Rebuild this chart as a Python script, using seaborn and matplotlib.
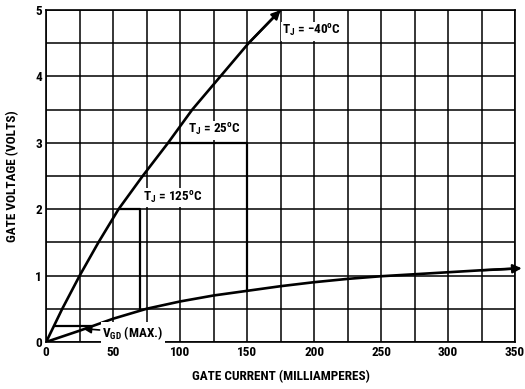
import numpy as np
import pandas as pd
import matplotlib
matplotlib.use("Agg")
import matplotlib.pyplot as plt
from matplotlib import font_manager
import seaborn as sns

# gate characteristics (mA, volts)
upper_ma = [0, 6, 12, 25, 39, 54, 72, 91, 109, 130, 151, 175]
upper_v = [0, 0.25, 0.5, 1.0, 1.5, 2.0, 2.5, 3.0, 3.5, 4.0, 4.5, 5.0]

lower_ma = [0, 25, 50, 75, 100, 125, 150, 175, 200, 225, 250, 275, 300, 325, 355]
lower_v = [0, 0.17, 0.35, 0.50, 0.61, 0.70, 0.77, 0.84, 0.90, 0.95, 0.99, 1.02, 1.05, 1.08, 1.11]

# rectangular limits for the two junction temperatures
box25_ma = [91, 150, 150]
box25_v = [3.0, 3.0, 0.77]
box125_ma = [54, 70, 70]
box125_v = [2.0, 2.0, 0.48]

# V_GD (max) line
vgd_ma = [6, 34]
vgd_v = [0.24, 0.24]

x_ticks = [0, 50, 100, 150, 200, 250, 300, 350]
y_ticks = [0, 1, 2, 3, 4, 5]

sns.set_style("white")

# pick a narrow face if one is installed
installed = {f.name for f in font_manager.fontManager.ttflist}
family = "DejaVu Sans"
for name in ["Liberation Sans Narrow", "DejaVu Sans Condensed", "Roboto Condensed",
             "Open Sans Condensed", "Liberation Sans"]:
    if name in installed:
        family = name
        break
plt.rcParams["font.family"] = [family, "DejaVu Sans"]
plt.rcParams["font.weight"] = "bold"
plt.rcParams["mathtext.default"] = "regular"
for key in ["text.color", "axes.labelcolor", "xtick.color", "ytick.color"]:
    plt.rcParams[key] = "black"

fig = plt.figure(figsize=(5.25, 3.89), dpi=100)
ax = fig.add_axes([0.088, 0.121, 0.893, 0.853])

upper = pd.DataFrame({"ma": upper_ma, "v": upper_v})
lower = pd.DataFrame({"ma": lower_ma, "v": lower_v})

sns.lineplot(data=upper, x="ma", y="v", color="black", lw=1.9, ax=ax, zorder=4)
sns.lineplot(data=lower, x="ma", y="v", color="black", lw=1.9, ax=ax, zorder=4)
for xs, ys in [(box25_ma, box25_v), (box125_ma, box125_v), (vgd_ma, vgd_v)]:
    sns.lineplot(x=xs, y=ys, color="black", lw=1.6, ax=ax, sort=False,
                 estimator=None, zorder=4)

# arrow heads at the ends of the curves
for xs, ys in [(upper_ma, upper_v), (lower_ma, lower_v)]:
    ax.annotate("", xy=(xs[-1], ys[-1]), xytext=(xs[-2], ys[-2]),
                arrowprops=dict(arrowstyle="-|>", color="black", lw=1.6,
                                mutation_scale=13, shrinkA=0, shrinkB=0),
                zorder=5, annotation_clip=False)

fs = 9.5
box = dict(facecolor="white", edgecolor="none", pad=1.0)
ax.text(176, 4.68, r"T$_J$ = $-$40$^o$C", fontsize=fs, va="center", ha="left", bbox=box, zorder=6)
ax.text(106, 3.19, r"T$_J$ = 25$^o$C", fontsize=fs, va="center", ha="left", bbox=box, zorder=6)
ax.text(72, 2.17, r"T$_J$ = 125$^o$C", fontsize=fs, va="center", ha="left", bbox=box, zorder=6)

ax.annotate(r"V$_{GD}$ (MAX.)", xy=(27.5, 0.2), xytext=(42, 0.14),
            fontsize=fs, va="center", ha="left",
            arrowprops=dict(arrowstyle="-|>", color="black", lw=1.2,
                            mutation_scale=12, shrinkA=1, shrinkB=0),
            bbox=box, zorder=6)

ax.set_xlim(0, 350)
ax.set_ylim(0, 5)
ax.set_xticks(x_ticks)
ax.set_yticks(y_ticks)
ax.set_xticks(np.arange(0, 351, 25), minor=True)
ax.set_yticks(np.arange(0, 5.01, 0.5), minor=True)
ax.grid(which="both", color="black", lw=1.1)
ax.set_axisbelow(True)
ax.tick_params(which="both", length=0, labelsize=fs, pad=3)
for s in ax.spines.values():
    s.set_color("black")
    s.set_linewidth(1.2)

ax.set_xlabel("GATE CURRENT (MILLIAMPERES)", fontsize=fs, fontweight="bold", labelpad=8)
ax.set_ylabel("GATE VOLTAGE (VOLTS)", fontsize=fs, fontweight="bold", labelpad=12)

fig.savefig("out.png", dpi=100)
